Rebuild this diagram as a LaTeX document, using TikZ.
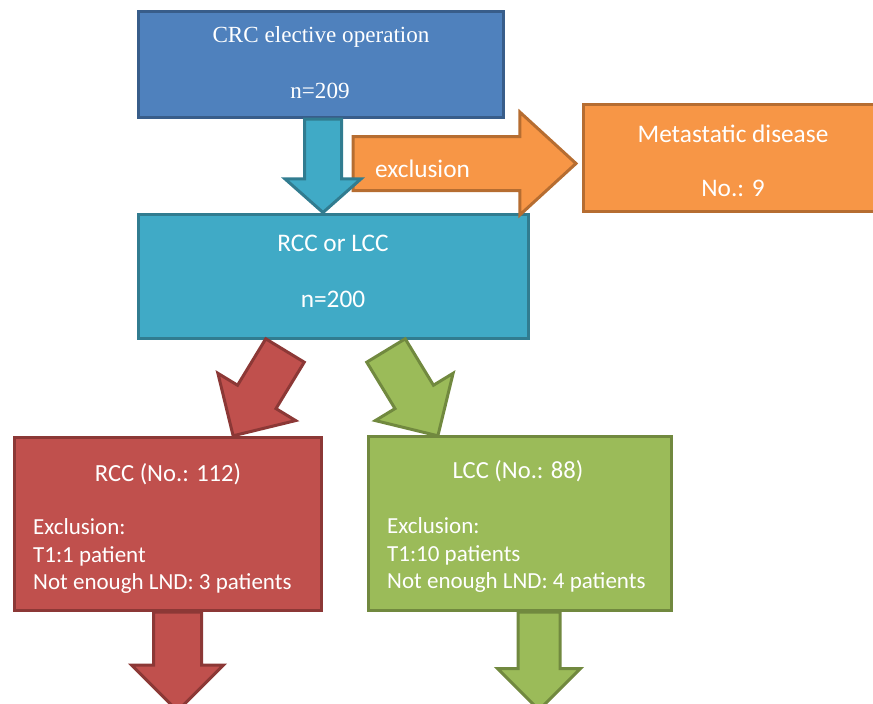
\documentclass[tikz,border=0pt]{standalone}
\usepackage{fontspec}
\setmainfont{Liberation Serif}
\newfontfamily\calibri{Carlito}
\usetikzlibrary{shapes.arrows,calc}
\definecolor{bluefill}{HTML}{4F81BD}   \definecolor{blueline}{HTML}{385D8A}
\definecolor{cyanfill}{HTML}{40AAC6}   \definecolor{cyanline}{HTML}{317C90}
\definecolor{orangefill}{HTML}{F79646} \definecolor{orangeline}{HTML}{B66D31}
\definecolor{redfill}{HTML}{C0504D}    \definecolor{redline}{HTML}{8C3836}
\definecolor{greenfill}{HTML}{9BBB59}  \definecolor{greenline}{HTML}{71893F}
\tikzset{
  flowbox/.style={rectangle, fill=#1fill, draw=#1line, line width=3pt, inner sep=0pt},
  blockarr/.style={single arrow, fill=#1fill, draw=#1line, line width=3pt,
    inner xsep=0pt, outer sep=0pt},
  seriftext/.style={text=white, inner sep=0pt, font=\fontsize{23.1}{28}\selectfont},
  boxtext/.style={text=white, inner sep=0pt, font=\calibri\fontsize{25.3}{30}\selectfont},
  titletext/.style={boxtext, font=\calibri\fontsize{24.6}{30}\selectfont},
  listtext/.style={text=white, inner sep=0pt, align=left, font=\calibri\fontsize{23}{27.5}\selectfont}
}
% name, colour, from, to, half shaft, head extend, tip angle
\newcommand{\blockarrow}[7]{%
  \path let \p1=($#4-#3$), \n1={atan2(\y1,\x1)}, \n2={veclen(\x1,\y1)} in
    node[blockarr=#2, single arrow tip angle=#7, minimum height=\n2,
      single arrow head extend=#6, inner ysep=#5, rotate=\n1, anchor=tail] (#1) at #3 {};%
}

\begin{document}
\begin{tikzpicture}[x=1pt,y=-1pt]
  \useasboundingbox (0,0) rectangle (873,704);
  \clip (0,0) rectangle (873,704);

  % boxes
  \node[flowbox=blue, minimum width=365, minimum height=106] (crc) at (321,64.5) {};
  \node[flowbox=cyan, minimum width=390, minimum height=124] (rl) at (333.5,276.5) {};
  \node[flowbox=orange, minimum width=299, minimum height=107] (meta) at (733,158) {};
  \node[flowbox=red, minimum width=307, minimum height=173] (rcc) at (168,524) {};
  \node[flowbox=green, minimum width=303, minimum height=174] (lcc) at (520,523.5) {};

  % texts
  \node[seriftext] (crcname) at (321,37) {CRC elective operation};
  \node[seriftext] (crcn) at (320,91) {n=209};
  \node[boxtext] (rlname) at (333,243) {RCC or LCC};
  \node[boxtext] (rln) at (333,299) {n=200};
  \node[boxtext] (metaname) at (733,134) {Metastatic disease};
  \node[boxtext] (metan) at (733,188) {No.: 9};
  \node[titletext] (rccname) at (168,474) {RCC (No.: 112)};
  \node[listtext, anchor=west] (rccexcl) at (33,556) {Exclusion:\\T1:1 patient\\Not enough LND: 3 patients};
  \node[titletext] (lccname) at (518,471) {LCC (No.: 88)};
  \node[listtext, anchor=west] (lccexcl) at (387,555) {Exclusion:\\T1:10 patients\\Not enough LND: 4 patients};

  % arrows
  \blockarrow{toexcl}{orange}{($(meta.west)+(-229,5.5)$)}{($(meta.west)+(-6,5.5)$)}{25.5}{24.5}{85}
  \node[boxtext, anchor=west] (excl) at (375,169) {exclusion};
  \blockarrow{tosplit}{cyan}{([xshift=2pt]crc.south)}{($(crc.south)+(2,93.5)$)}{17}{19.5}{97}
  \blockarrow{toright}{red}{($(rl.south)+(-48.5,10.5)$)}{($(rcc.north)+(65,0)$)}{21}{23}{90}
  \blockarrow{toleft}{green}{($(rl.south)+(52.5,10.5)$)}{($(lcc.north)+(-82,1)$)}{21}{23}{90}
  \blockarrow{rccnext}{red}{($(rcc.south)+(9.5,0)$)}{($(rcc.south)+(9.5,99)$)}{22.5}{22}{90}
  \blockarrow{lccnext}{green}{($(lcc.south)+(19,0)$)}{($(lcc.south)+(19,98)$)}{19.5}{20.5}{90}
\end{tikzpicture}
\end{document}
